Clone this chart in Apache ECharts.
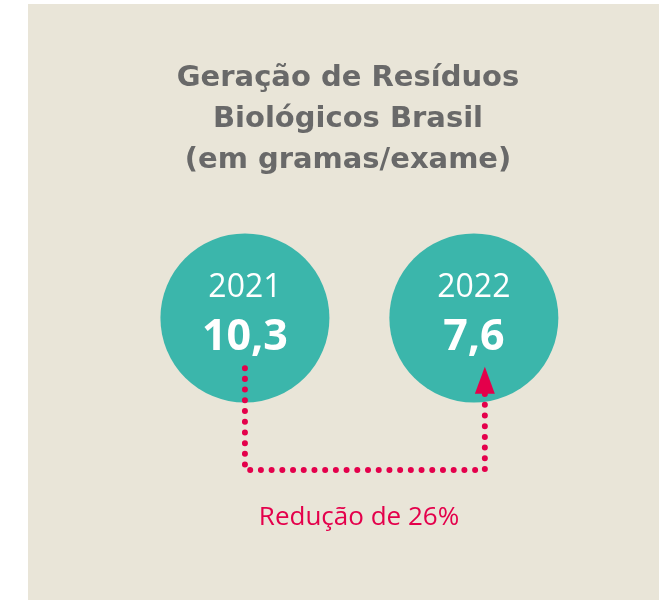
<!DOCTYPE html>
<html>
<head>
<meta charset="utf-8">
<script src="https://cdn.jsdelivr.net/npm/echarts@6/dist/echarts.min.js"></script>
<style>
  html, body { margin: 0; padding: 0; background: #ffffff; }
  #chart { width: 659px; height: 600px; }
</style>
</head>
<body>
<div id="chart"></div>
<script>
// data
var years = ["2021", "2022"];
var values = [10.3, 7.6];
var reduction = 26; // %
var titleLines = ["Geração de Resíduos", "Biológicos Brasil", "(em gramas/exame)"];

// layout (axis units: circles sit on y = 0, x = 0 and 1)
var connectorStartY = -0.33;
var connectorBottomY = -1;
var connectorEndY = -0.44;
var arrowY = -0.41;
var connectorRightX = 1.048;

var fmt = function (v) {
  return v.toFixed(1).replace(".", ",");
};

var chartDom = document.getElementById("chart");
var myChart = echarts.init(chartDom);

var circleData = years.map(function (y, i) {
  return { value: [i, 0], year: y, amount: values[i] };
});

var option = {
  backgroundColor: "#ffffff",
  animation: false,
  graphic: [
    {
      type: "rect",
      z: -10,
      shape: { x: 28, y: 4, width: 631, height: 596 },
      style: { fill: "#e9e5d8" },
    },
  ],
  title: [
    {
      text: titleLines.join("\n"),
      left: 348,
      top: 58,
      padding: 0,
      textAlign: "center",
      textStyle: {
        fontFamily: "DejaVu Sans",
        fontSize: 29,
        fontWeight: "bold",
        lineHeight: 41,
        color: "#696969",
      },
    },
    {
      text: "Redução de " + reduction + "%",
      left: 359,
      top: 505,
      padding: 0,
      textAlign: "center",
      textStyle: {
        fontFamily: "Open Sans",
        fontSize: 26,
        fontWeight: "normal",
        color: "#e4004b",
      },
    },
  ],
  grid: { left: 16, right: 2, top: 14, bottom: 54 },
  xAxis: { type: "value", min: -1, max: 1.8, show: false },
  yAxis: { type: "value", min: -1.5, max: 2, show: false },
  series: [
    {
      type: "lines",
      coordinateSystem: "cartesian2d",
      polyline: true,
      z: 3,
      lineStyle: {
        color: "#e4004b",
        width: 6,
        opacity: 1,
        type: [0.01, 10.7],
        cap: "round",
      },
      data: [
        {
          coords: [
            [0, connectorStartY],
            [0, connectorBottomY],
            [connectorRightX, connectorBottomY],
            [connectorRightX, connectorEndY],
          ],
        },
      ],
    },
    {
      type: "scatter",
      z: 4,
      symbol: "triangle",
      symbolSize: [20, 27],
      itemStyle: { color: "#e4004b", opacity: 1 },
      data: [[connectorRightX, arrowY]],
    },
    {
      type: "scatter",
      z: 2,
      symbol: "circle",
      symbolSize: 169,
      itemStyle: { color: "#3bb6ab", opacity: 1 },
      label: {
        show: true,
        position: "inside",
        offset: [0, -5],
        formatter: function (p) {
          return "{y|" + p.data.year + "}\n{v|" + fmt(p.data.amount) + "}";
        },
        rich: {
          y: {
            fontFamily: "Open Sans",
            fontSize: 32,
            color: "#ffffff",
            lineHeight: 50,
            align: "center",
          },
          v: {
            fontFamily: "Open Sans",
            fontSize: 43,
            fontWeight: "bold",
            color: "#ffffff",
            lineHeight: 50,
            align: "center",
          },
        },
      },
      data: circleData,
    },
  ],
};

option && myChart.setOption(option);
</script>
</body>
</html>
